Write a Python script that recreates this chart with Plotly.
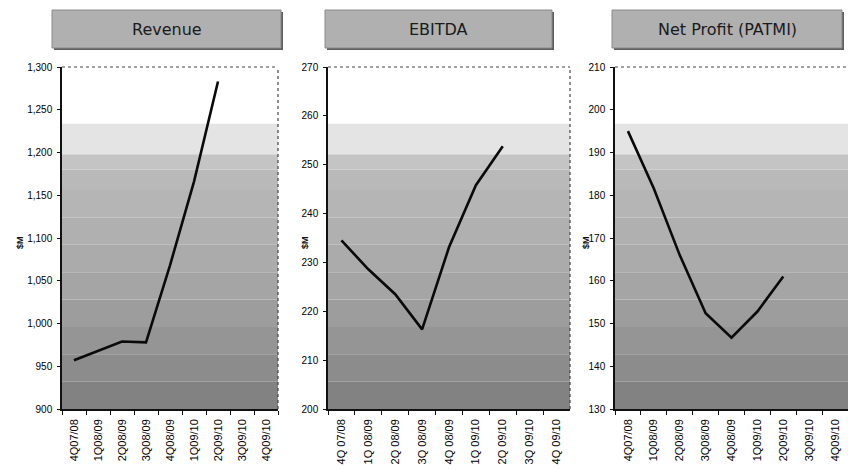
import plotly.graph_objects as go

# ---------------- data ----------------
rev_categories = ["4Q07/08", "1Q08/09", "2Q08/09", "3Q08/09", "4Q08/09",
                  "1Q09/10", "2Q09/10", "3Q09/10", "4Q09/10"]
ebitda_categories = ["4Q 07/08", "1Q 08/09", "2Q 08/09", "3Q 08/09", "4Q 08/09",
                     "1Q 09/10", "2Q 09/10", "3Q 09/10", "4Q 09/10"]
np_categories = ["4Q07/08", "1Q08/09", "2Q08/09", "3Q08/09", "4Q08/09",
                 "1Q09/10", "2Q09/10", "3Q09/10", "4Q09/10"]

revenue = [957, 968, 979, 978, 1068, 1166, 1283]
ebitda = [234.5, 228.6, 223.5, 216.3, 233.1, 245.8, 253.8]
net_profit = [195, 181.6, 166, 152.4, 146.7, 152.8, 161]

titles = ["Revenue", "EBITDA", "Net Profit (PATMI)"]
y_title = "$M"

# ---------------- figure ----------------
W, H = 848, 470
fig = go.Figure()

panels = [
    dict(cats=rev_categories, vals=revenue, rng=[900, 1300], dtick=50, fmt=",",
         dom=[62 / W, 278 / W], box=[52, 281], right=True),
    dict(cats=ebitda_categories, vals=ebitda, rng=[200, 270], dtick=10, fmt="",
         dom=[328 / W, 570 / W], box=[325, 552], right=True),
    dict(cats=np_categories, vals=net_profit, rng=[130, 210], dtick=10, fmt="",
         dom=[615 / W, 1.0], box=[612, 842], right=False),
]

ydom = [(H - 409) / H, (H - 67) / H]
ytick_font = dict(family="Liberation Sans Narrow, Liberation Sans, Arial, sans-serif",
                  size=10, color="#000")
xtick_font = dict(family="Liberation Sans Narrow, Liberation Sans, Arial, sans-serif",
                  size=11, color="#000")

# background bands (fraction of plot height from bottom, colour)
bands = [
    (0.00, 0.08, "#828282"),
    (0.08, 0.16, "#8c8c8c"),
    (0.16, 0.24, "#959595"),
    (0.24, 0.32, "#9d9d9d"),
    (0.32, 0.40, "#a5a5a5"),
    (0.40, 0.48, "#ababab"),
    (0.48, 0.56, "#b0b0b0"),
    (0.56, 0.64, "#b5b5b5"),
    (0.64, 0.70, "#b9b9b9"),
    (0.70, 0.745, "#c4c4c4"),
    (0.745, 0.835, "#e4e4e4"),
    (0.835, 1.00, "#ffffff"),
]

shapes = []
annotations = []
for i, p in enumerate(panels):
    sfx = "" if i == 0 else str(i + 1)
    xa, ya = "x" + sfx, "y" + sfx
    fig.add_trace(go.Scatter(
        x=p["cats"][:len(p["vals"])], y=p["vals"], mode="lines",
        line=dict(color="#0a0a0a", width=2.6), xaxis=xa, yaxis=ya,
        showlegend=False, hoverinfo="skip"))

    fig.layout["xaxis" + sfx] = dict(
        domain=p["dom"], anchor=ya, type="category", automargin=False,
        categoryorder="array", categoryarray=p["cats"],
        range=[-0.5, len(p["cats"]) - 0.5],
        tickangle=-90, ticks="outside", tickson="boundaries", ticklen=4,
        tickcolor="#111", tickwidth=1, ticklabelstandoff=4,
        showline=True, linecolor="#111", linewidth=1.5,
        showgrid=False, zeroline=False, tickfont=xtick_font)
    fig.layout["yaxis" + sfx] = dict(
        domain=ydom, anchor=xa, range=p["rng"], dtick=p["dtick"], automargin=False,
        tickformat=p["fmt"], ticks="outside", ticklen=3, tickcolor="#111",
        ticklabelstandoff=3,
        showline=True, linecolor="#111", linewidth=1.5,
        showgrid=False, zeroline=False, tickfont=ytick_font)

    for (b0, b1, col) in bands:
        shapes.append(dict(type="rect", xref=xa + " domain", yref=ya + " domain",
                           x0=0, x1=1, y0=b0, y1=b1, fillcolor=col,
                           line=dict(width=0), layer="below"))
    # dotted top & right frame
    shapes.append(dict(type="line", xref=xa + " domain", yref=ya + " domain",
                       x0=0, x1=1, y0=1, y1=1,
                       line=dict(color="#444", width=1.2, dash="dot")))
    if p["right"]:
        shapes.append(dict(type="line", xref=xa + " domain", yref=ya + " domain",
                           x0=1, x1=1, y0=0, y1=1,
                           line=dict(color="#444", width=1.2, dash="dot")))

    # title box with shadow
    bx0, bx1 = p["box"]
    shapes.append(dict(type="rect", xref="paper", yref="paper",
                       x0=(bx0 + 2) / W, x1=(bx1 + 2) / W,
                       y0=(H - 50) / H, y1=(H - 12) / H,
                       fillcolor="#5e5e5e", line=dict(width=0)))
    shapes.append(dict(type="rect", xref="paper", yref="paper",
                       x0=bx0 / W, x1=bx1 / W, y0=(H - 48) / H, y1=(H - 10) / H,
                       fillcolor="#b0b0b0", line=dict(color="#8a8a8a", width=1)))
    annotations.append(dict(xref="paper", yref="paper",
                            x=(bx0 + bx1) / 2 / W, y=(H - 30) / H,
                            text=titles[i], showarrow=False,
                            xanchor="center", yanchor="middle",
                            font=dict(family="DejaVu Sans, sans-serif", size=16,
                                      color="#1a1a1a")))
    # y-axis title
    ylab_x = [20, 305, 586][i]
    annotations.append(dict(xref="paper", yref="paper",
                            x=ylab_x / W, y=(H - 243) / H,
                            text="<b>" + y_title + "</b>", textangle=-90, showarrow=False,
                            xanchor="center", yanchor="middle",
                            font=dict(family="Liberation Sans, sans-serif",
                                      size=9, color="#111")))

fig.update_layout(width=W, height=H, autosize=False,
                  margin=dict(l=0, r=0, t=0, b=0, pad=0, autoexpand=False),
                  paper_bgcolor="white", plot_bgcolor="rgba(0,0,0,0)",
                  shapes=shapes, annotations=annotations, showlegend=False)

fig.write_html("out.html", config={"displayModeBar": False},
               post_script="document.body.style.margin='0';document.body.style.overflow='hidden';")
